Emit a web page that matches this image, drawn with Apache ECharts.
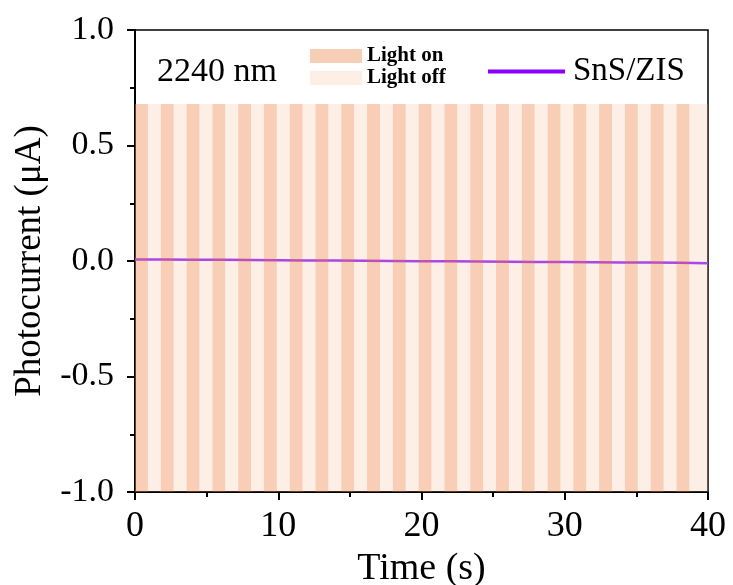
<!DOCTYPE html>
<html>
<head>
<meta charset="utf-8">
<script src="https://cdn.jsdelivr.net/npm/echarts@6/dist/echarts.min.js"></script>
<style>html,body{margin:0;padding:0;background:#fff;}#c{width:733px;height:585px;}</style>
</head>
<body>
<div id="c"></div>
<script>
// ---- data ----
const timeS = [0,2,4,6,8,10,12,14,16,18,20,22,24,26,28,30,32,34,36,38,40];
const currentUA = [0.007,0.006,0.005,0.005,0.004,0.003,0.002,0.002,0.001,0.000,-0.001,-0.001,-0.002,-0.003,-0.004,-0.004,-0.005,-0.006,-0.007,-0.008,-0.010];
const lightOnStart = [0,1.8,3.6,5.4,7.2,9.0,10.8,12.6,14.4,16.2,18.0,19.8,21.6,23.4,25.2,27.0,28.8,30.6,32.4,34.2,36.0,37.8];
const lightOnEnd   = [0.9,2.7,4.5,6.3,8.1,9.9,11.7,13.5,15.3,17.1,18.9,20.7,22.5,24.3,26.1,27.9,29.7,31.5,33.3,35.1,36.9,38.7];
const lightOffStart = [0.9,2.7,4.5,6.3,8.1,9.9,11.7,13.5,15.3,17.1,18.9,20.7,22.5,24.3,26.1,27.9,29.7,31.5,33.3,35.1,36.9,38.7];
const lightOffEnd   = [1.8,3.6,5.4,7.2,9.0,10.8,12.6,14.4,16.2,18.0,19.8,21.6,23.4,25.2,27.0,28.8,30.6,32.4,34.2,36.0,37.8,40];
const bandTop = 0.68;
const bandBottom = -1.0;
const xTicks = { min: 0, max: 40, interval: 10 };
const yTicks = { min: -1, max: 1, interval: 0.5 };

const FONT = '"Liberation Serif", "Times New Roman", serif';
const onColor = 'rgba(239,140,80,0.42)';
const offColor = 'rgba(245,180,140,0.22)';
const lineColor = '#9628FF';

function bandRender(color) {
  return function (params, api) {
    const a = api.coord([api.value(0), bandTop]);
    const b = api.coord([api.value(1), bandBottom]);
    return {
      type: 'rect',
      shape: { x: a[0], y: a[1], width: b[0] - a[0], height: b[1] - a[1] },
      style: { fill: color }
    };
  };
}

const chart = echarts.init(document.getElementById('c'), null, { renderer: 'canvas' });
chart.setOption({
  animation: false,
  backgroundColor: '#fff',
  textStyle: { fontFamily: FONT },
  grid: { left: 135, right: 25, top: 30, bottom: 93, outerBoundsMode: 'none', containLabel: false,
          show: true, borderColor: '#000', borderWidth: 1.5, backgroundColor: 'transparent' },
  xAxis: {
    type: 'value', min: xTicks.min, max: xTicks.max, interval: xTicks.interval,
    name: 'Time (s)', nameLocation: 'middle', nameGap: 52,
    nameTextStyle: { fontFamily: FONT, fontSize: 38, color: '#000' },
    axisLine: { show: true, onZero: false, lineStyle: { color: '#000', width: 2 } },
    axisTick: { show: true, inside: false, length: 8, lineStyle: { color: '#000', width: 2 } },
    minorTick: { show: true, splitNumber: 2, length: 5, lineStyle: { color: '#000', width: 2 } },
    splitLine: { show: false },
    axisLabel: { fontFamily: FONT, fontSize: 36, color: '#000', margin: 17 }
  },
  yAxis: {
    type: 'value', min: yTicks.min, max: yTicks.max, interval: yTicks.interval,
    name: 'Photocurrent (\u03bcA)', nameLocation: 'middle', nameGap: 86, nameRotate: 90,
    nameTextStyle: { fontFamily: FONT, fontSize: 37, color: '#000' },
    axisLine: { show: true, onZero: false, lineStyle: { color: '#000', width: 2 } },
    axisTick: { show: true, inside: false, length: 8, lineStyle: { color: '#000', width: 2 } },
    minorTick: { show: true, splitNumber: 2, length: 5, lineStyle: { color: '#000', width: 2 } },
    splitLine: { show: false },
    axisLabel: { fontFamily: FONT, fontSize: 34, color: '#000', margin: 21, formatter: v => v.toFixed(1) }
  },
  legend: [
    {
      data: ['Light on', 'Light off'], orient: 'vertical', left: 310, top: 45, padding: 0,
      itemWidth: 52, itemHeight: 14, itemGap: 0, icon: 'rect',
      textStyle: { fontFamily: FONT, fontSize: 21, lineHeight: 22, fontWeight: 'bold', color: '#000' }
    },
    {
      data: [{ name: 'SnS/ZIS', itemStyle: { opacity: 0 } }], left: 486, top: 55, padding: 0,
      itemWidth: 77, itemHeight: 20, lineStyle: { width: 4, color: '#8A00FF' },
      textStyle: { fontFamily: FONT, fontSize: 33, color: '#000', padding: [0,0,0,3] }
    }
  ],
  graphic: [
    { type: 'text', left: 157, top: 55, style: { text: '2240 nm', fontFamily: FONT, fontSize: 34, fill: '#000' } }
  ],
  series: [
    {
      name: 'SnS/ZIS', type: 'line', z: 1, symbol: 'none',
      color: lineColor, lineStyle: { color: lineColor, width: 2.5 },
      data: timeS.map((t, i) => [t, currentUA[i]])
    },
    {
      name: 'Light on', type: 'custom', z: 5, color: onColor, itemStyle: { color: onColor },
      renderItem: bandRender(onColor), encode: { x: [0, 1] },
      data: lightOnStart.map((s, i) => [s, lightOnEnd[i]])
    },
    {
      name: 'Light off', type: 'custom', z: 5, color: offColor, itemStyle: { color: offColor },
      renderItem: bandRender(offColor), encode: { x: [0, 1] },
      data: lightOffStart.map((s, i) => [s, lightOffEnd[i]])
    }
  ]
});
</script>
</body>
</html>
